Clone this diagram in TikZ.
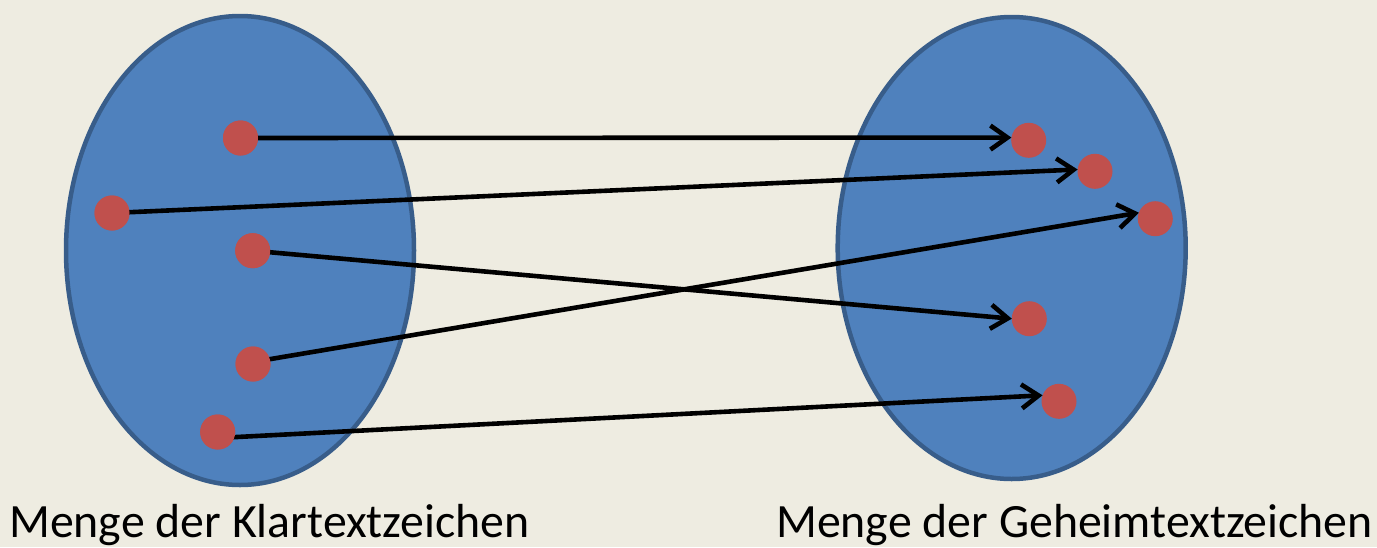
\documentclass[tikz,border=0pt]{standalone}
\usepackage{fontspec}
\setmainfont{Carlito}
\usetikzlibrary{arrows.meta}
\definecolor{bg}{HTML}{EEECE1}
\definecolor{setfill}{HTML}{4F81BD}
\definecolor{setline}{HTML}{385D8A}
\definecolor{dotred}{HTML}{C0504D}
\begin{document}
\begin{tikzpicture}[x=1pt,y=-1pt,
  setshape/.style={fill=setfill,draw=setline,line width=4.5pt},
  dot/.style={circle,fill=dotred,minimum size=35pt,inner sep=0pt,outer sep=0pt},
  maparrow/.style={line width=4.6pt,-{Straight Barb[length=17pt,width=24pt,line width=4.6pt]},line cap=round},
  caption/.style={anchor=base west,inner sep=0pt,font=\fontsize{47.8}{56}\selectfont}]
\fill[bg] (0,0) rectangle (1377,547);
\useasboundingbox (0,0) rectangle (1377,547);
\draw[setshape] (240,250.5) ellipse [x radius=174, y radius=234.5];
\draw[setshape] (1011.7,248) ellipse [x radius=174, y radius=231];
\node[dot] (L1) at (240.5,138) {};
\node[dot] (L2) at (112,213) {};
\node[dot] (L3) at (252.7,250.7) {};
\node[dot] (L4) at (253,364) {};
\node[dot] (L5) at (217.7,432) {};
\node[dot] (R1) at (1028.7,140.3) {};
\node[dot] (R2) at (1095,171.3) {};
\node[dot] (R3) at (1155.3,218.7) {};
\node[dot] (R4) at (1029.3,318.7) {};
\node[dot] (R5) at (1059,401.3) {};
\draw[maparrow] (L1.center) -- (R1.171);
\draw[maparrow] (L2.center) -- (R2.174);
\draw[maparrow] (L3.center) -- (R4.west);
\draw[maparrow] ([yshift=2pt]L4.center) -- (R3.160);
\draw[maparrow] ([yshift=-6pt]L5.center) -- (R5.160);
\node[dot] at (L1) {};
\node[dot] at (L2) {};
\node[dot] at (L3) {};
\node[dot] at (L4) {};
\node[dot] at (L5) {};
\node[caption] (capL) at (9,537) {Menge der Klartextzeichen};
\node[caption] (capR) at (776,537) {Menge der Geheimtextzeichen};
\end{tikzpicture}
\end{document}
